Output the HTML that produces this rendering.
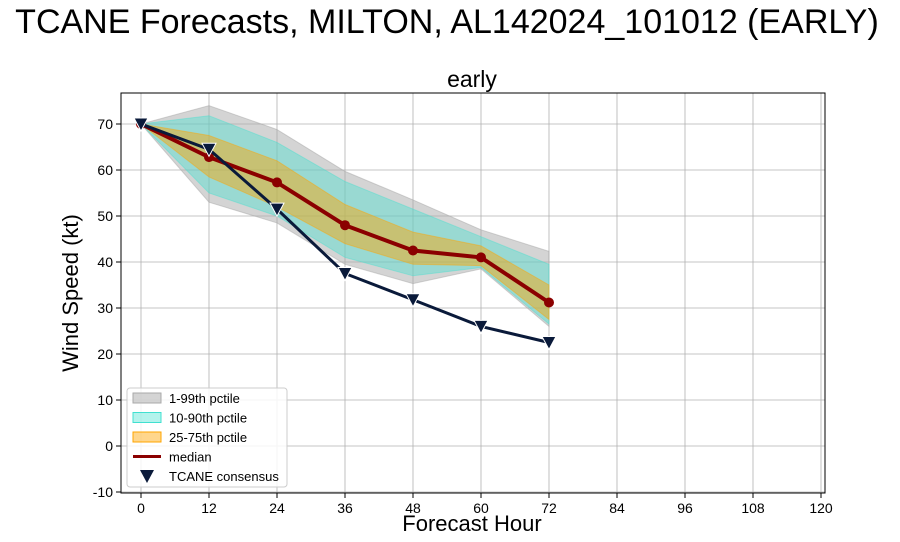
<!DOCTYPE html>
<html><head><meta charset="utf-8"><style>
body{margin:0;background:#fff;}
svg{display:block;font-family:"Liberation Sans","DejaVu Sans",sans-serif;}
</style></head><body>
<svg id="chart" width="900" height="542">
<text x="447" y="33" text-anchor="middle" font-size="34">TCANE Forecasts, MILTON, AL142024_101012 (EARLY)</text>
<text x="472" y="87" text-anchor="middle" font-size="23">early</text>
<g id="plot"></g>
</svg>
<script>
const hours=[0,12,24,36,48,60,72];
const median=[70,62.8,57.3,48,42.5,41,31.2];
const consensus=[70,64.5,51.5,37.5,31.8,26,22.5];
const p99hi=[70,74,68.8,59.7,53.5,47,42.3];
const p99lo=[70,53,48.5,39.5,35.3,38.5,26];
const p90hi=[70,71.8,66,57.5,51.5,45.5,39.5];
const p90lo=[70,55,50,41,37,38.8,26.5];
const p75hi=[70,67.5,62,52.5,46.5,43.5,35];
const p75lo=[70,58.5,52,44,39.5,39.2,27.5];
const xTicks=[0,12,24,36,48,60,72,84,96,108,120];
const yTicks=[-10,0,10,20,30,40,50,60,70];
const L=121,R=825,T=93,B=493;
const X=h=>141+h*68/12;
const Y=v=>124+(70-v)*4.6;
const NS="http://www.w3.org/2000/svg";
const g=document.getElementById('plot');
function mk(t,a,p){const e=document.createElementNS(NS,t);for(const k in a)e.setAttribute(k,a[k]);(p||g).appendChild(e);return e;}
xTicks.forEach(t=>{
 const l=mk('line',{x1:X(t),x2:X(t),y1:T,y2:B,stroke:'#b0b0b0','stroke-width':0.8});
 
 
 mk('line',{x1:X(t),x2:X(t),y1:B,y2:B+5,stroke:'#000'});
 const tx=mk('text',{x:X(t),y:B+20,'text-anchor':'middle','font-size':14});
 tx.textContent=t;
 
 
});
yTicks.forEach(t=>{
 const l=mk('line',{x1:L,x2:R,y1:Y(t),y2:Y(t),stroke:'#b0b0b0','stroke-width':0.8});
 
 
 mk('line',{x1:L-5,x2:L,y1:Y(t),y2:Y(t),stroke:'#000'});
 const tx=mk('text',{x:L-8,y:Y(t)+5,'text-anchor':'end','font-size':14});
 tx.textContent=t;
 
 
});
function band(hi,lo,fill,op,name){
 let d=hours.map((h,i)=>(i?'L':'M')+X(h)+','+Y(hi[i])).join('');
 for(let i=hours.length-1;i>=0;i--)d+='L'+X(hours[i])+','+Y(lo[i]);
 const p=mk('path',{d:d+'Z',fill:fill,'fill-opacity':op,stroke:fill,'stroke-opacity':op});
 
 
}
band(p99hi,p99lo,'#a9a9a9',0.5,'band-1-99');
band(p90hi,p90lo,'#40e0d0',0.4,'band-10-90');
band(p75hi,p75lo,'#ffa500',0.45,'band-25-75');
const ml=mk('polyline',{points:hours.map((h,i)=>X(h)+','+Y(median[i])).join(' '),fill:'none',stroke:'#8b0000','stroke-width':4});


hours.forEach((h,i)=>{const c=mk('circle',{cx:X(h),cy:Y(median[i]),r:5,fill:'#8b0000'});
 
 });
const cl=mk('polyline',{points:hours.map((h,i)=>X(h)+','+Y(consensus[i])).join(' '),fill:'none',stroke:'#0a1a3a','stroke-width':3});


hours.forEach((h,i)=>{const x=X(h),y=Y(consensus[i]);
 const m=mk('path',{d:`M${x-7},${y-6}L${x+7},${y-6}L${x},${y+7}Z`,fill:'#0a1a3a',stroke:'#fff','stroke-width':1});
 
 });
const fr=mk('rect',{x:L,y:T,width:R-L,height:B-T,fill:'none',stroke:'#000','stroke-width':1});


const xl=mk('text',{x:472,y:531,'text-anchor':'middle','font-size':22});xl.textContent='Forecast Hour';


const yl=mk('text',{x:78,y:293,'text-anchor':'middle','font-size':22,transform:'rotate(-90 78 293)'});yl.textContent='Wind Speed (kt)';


const lg=mk('g',{});


mk('rect',{x:127,y:388,width:160,height:99,rx:3,fill:'#fff','fill-opacity':0.85,stroke:'#ccc'},lg);
const items=[['1-99th pctile','#a9a9a9',0.5,'patch'],['10-90th pctile','#40e0d0',0.4,'patch'],['25-75th pctile','#ffa500',0.45,'patch'],['median','#8b0000',1,'line'],['TCANE consensus','#0a1a3a',1,'tri']];
items.forEach((it,i)=>{const y=398+i*19.5;
 if(it[3]=='patch')mk('rect',{x:133,y:y-5,width:28,height:10,fill:it[1],'fill-opacity':it[2],stroke:it[1]},lg);
 else if(it[3]=='line')mk('line',{x1:133,x2:161,y1:y,y2:y,stroke:it[1],'stroke-width':3},lg);
 else mk('path',{d:`M${140},${y-6}L${154},${y-6}L${147},${y+7}Z`,fill:it[1]},lg);
 const t=mk('text',{x:169,y:y+5,'font-size':13},lg);t.textContent=it[0];
 
 });
</script>
</body></html>
